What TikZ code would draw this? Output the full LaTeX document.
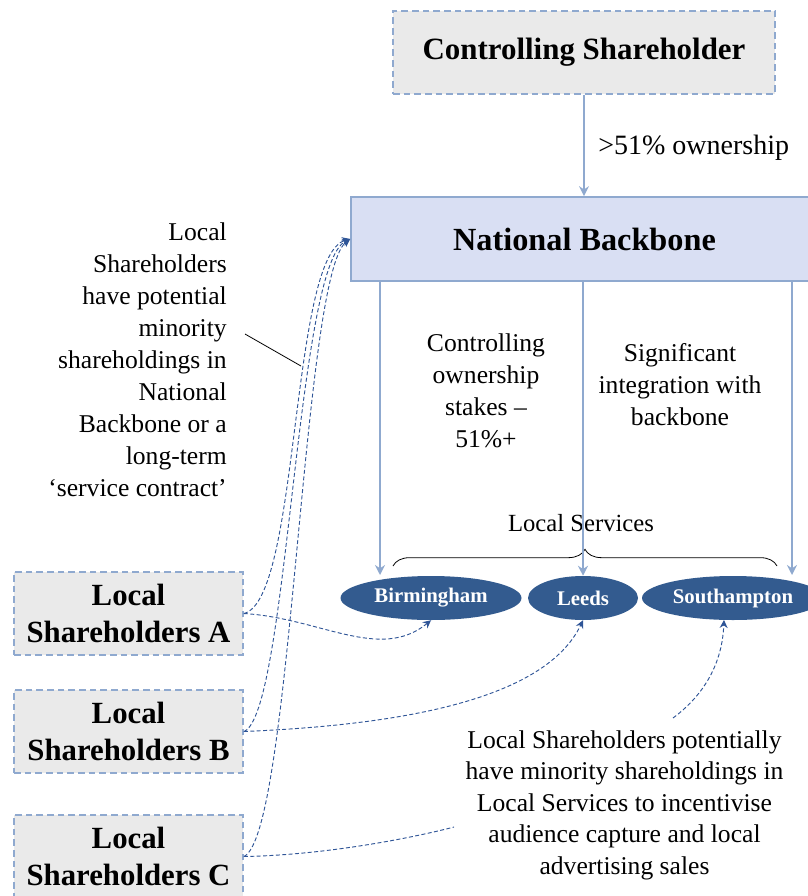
\documentclass[tikz,border=0pt]{standalone}
\usepackage{fontspec}
\setmainfont{Liberation Serif}
\usetikzlibrary{arrows.meta,shapes.geometric,decorations.pathreplacing}
\definecolor{boxline}{HTML}{8FA9CF}
\definecolor{greyfill}{HTML}{EAEAEA}
\definecolor{nbfill}{HTML}{D9DFF3}
\definecolor{ellfill}{HTML}{335B8F}
\definecolor{dashblue}{HTML}{2F5597}
\begin{document}
\begin{tikzpicture}[x=0.75pt,y=-0.75pt,
  shbox/.style={draw=boxline, dash pattern=on 5pt off 3pt, line width=1.3pt, fill=greyfill,
    font=\fontsize{23.1}{27.75}\selectfont\bfseries, align=center, inner sep=0pt,
    minimum height=62.25pt},
  nbbox/.style={draw=boxline, line width=1.3pt, fill=nbfill,
    font=\fontsize{24.2}{27}\selectfont\bfseries, inner sep=0pt,
    minimum width=350.25pt, minimum height=63pt},
  city/.style={ellipse, fill=ellfill, text=white, inner sep=0pt, minimum height=33pt,
    font=\fontsize{15.6}{18}\selectfont\bfseries},
  txt/.style={font=\fontsize{19.2}{24}\selectfont, inner sep=0pt},
  solidarrow/.style={draw=boxline, line width=1.2pt, -{Stealth[length=7.5pt,width=7.5pt,inset=2.5pt]}},
  dasharrow/.style={draw=dashblue, line width=0.7pt, dash pattern=on 3pt off 1.8pt,
    -{Stealth[length=6pt,width=6pt,inset=2pt]}},
  dashline/.style={draw=dashblue, line width=0.7pt, dash pattern=on 3pt off 1.8pt}]
\useasboundingbox (0,0) rectangle (807,896);

% main boxes
\node[shbox, minimum width=286.5pt, font=\fontsize{23.2}{27.75}\selectfont\bfseries] (cs) at (584,52.5) {Controlling Shareholder};
\node[nbbox] (nb) at (584.5,239) {National Backbone};

% local shareholder boxes
\node[shbox, minimum width=171.75pt] (lsa) at (128.5,613.5) {Local\\Shareholders A};
\node[shbox, minimum width=171.75pt] (lsb) at (128.5,731.5) {Local\\Shareholders B};
\node[shbox, minimum width=171.75pt] (lsc) at (128.5,856.5) {Local\\Shareholders C};

% cities
\node[city, minimum width=135.75pt] (bir) at (431,598) {\raisebox{-2pt}{Birmingham}};
\node[city, minimum width=82.5pt] (lee) at (583,598) {\raisebox{-1pt}{Leeds}};
\node[city, minimum width=136.5pt] (sou) at (733,598) {\raisebox{-2pt}{Southampton}};

% texts
\node[txt, anchor=west, font=\fontsize{21}{24}\selectfont] (own) at (598,148) {>51\% ownership};
\node[txt, align=center] (ctrl) at (486,391) {Controlling\\ownership\\stakes –\\51\%+};
\node[txt, align=center] (integ) at (680,385) {Significant\\integration with\\backbone};
\node[txt, font=\fontsize{18.5}{24}\selectfont] (ls) at (581,523) {Local Services};
\node[txt, align=right, anchor=east] (note1) at (227,360) {Local\\Shareholders\\have potential\\minority\\shareholdings in\\National\\Backbone or a\\long-term\\‘service contract’};
\node[txt, align=center, font=\fontsize{19.2}{23.6}\selectfont] (note2) at (624.5,805) {Local Shareholders potentially\\have minority shareholdings in\\Local Services to incentivise\\audience capture and local\\advertising sales};

% brace
\coordinate (brl) at (393,566);
\coordinate (brr) at (777,566);
\draw[decorate, decoration={brace, amplitude=12.5pt}, line width=0.6pt] (brl) -- (brr);

% solid arrows
\coordinate (t1) at (380,575);
\coordinate (t3) at (792,575);
\draw[solidarrow] (cs.south) -- (cs.south |- nb.north);
\draw[solidarrow] (nb.south -| t1) -- (t1);
\draw[solidarrow] (nb.south -| lee.north) -- (lee.north);
\draw[solidarrow] (nb.south -| t3) -- (t3);

% dashed connectors to the national backbone
\draw[dasharrow] (lsa.east) .. controls (300,600) and (290,255) .. (nb.west);
\draw[dasharrow] (lsb.east) .. controls (288,715) and (296,265) .. (nb.west);
\draw[dasharrow] (lsc.east) .. controls (292,835) and (302,275) .. (nb.west);

% dashed connectors to local services
\draw[dasharrow] (lsa.east) .. controls (320,618) and (380,662) .. (bir.south);
\draw[dasharrow] (lsb.east) .. controls (400,725) and (545,700) .. (lee.south);
\coordinate (cend) at (454,827);
\coordinate (nstart) at (673,718);
\coordinate (stip) at (724,620);
\draw[dashline] (lsc.east) .. controls (330,855) and (420,836) .. (cend);
\draw[dasharrow] (nstart) .. controls (700,698) and (722,668) .. (stip);

% annotation pointer
\coordinate (ps) at (245,334);
\coordinate (pt) at (301,366);
\draw[line width=0.6pt] (ps) -- (pt);
\end{tikzpicture}
\end{document}
